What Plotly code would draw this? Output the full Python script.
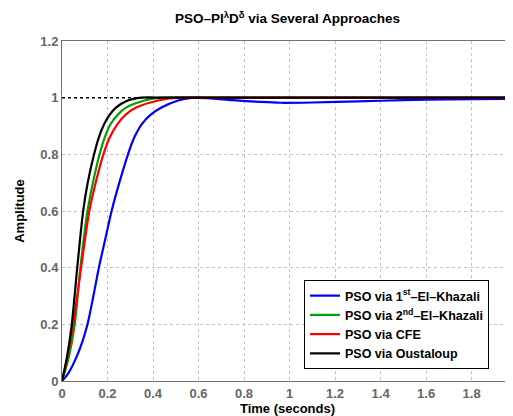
import plotly.graph_objects as go

# ---- data ----
t_blue = [0, 0.027, 0.064, 0.09, 0.112, 0.138, 0.162, 0.19, 0.218, 0.252, 0.29, 0.318, 0.35,
          0.39, 0.437, 0.51, 0.57, 0.64, 0.75, 0.87, 0.96, 1.1, 1.3, 1.5, 1.7, 1.98]
a_blue = [0, 0.026, 0.085, 0.14, 0.2, 0.3, 0.4, 0.5, 0.6, 0.7, 0.8, 0.86, 0.906,
          0.94, 0.965, 0.99, 0.999, 0.998, 0.991, 0.985, 0.982, 0.983, 0.987, 0.991, 0.994, 0.996]

t_green = [0, 0.03, 0.056, 0.081, 0.112, 0.136, 0.165, 0.188, 0.213, 0.245, 0.281, 0.363,
           0.437, 0.6, 1.0, 1.5, 1.98]
a_green = [0, 0.085, 0.2, 0.4, 0.6, 0.7, 0.8, 0.86, 0.906, 0.94, 0.965, 0.99,
           1.0, 1.0, 1.0, 1.0, 1.0]

t_red = [0, 0.024, 0.049, 0.084, 0.12, 0.148, 0.182, 0.21, 0.243, 0.28, 0.326, 0.422,
         0.51, 0.7, 1.0, 1.5, 1.98]
a_red = [0, 0.085, 0.2, 0.4, 0.6, 0.7, 0.8, 0.86, 0.906, 0.94, 0.965, 0.99,
         1.0, 1.0, 1.0, 1.0, 1.0]

t_black = [0, 0.022, 0.043, 0.067, 0.093, 0.113, 0.141, 0.162, 0.185, 0.21, 0.237, 0.289,
           0.348, 0.45, 0.6, 1.0, 1.5, 1.98]
a_black = [0, 0.085, 0.2, 0.4, 0.6, 0.7, 0.8, 0.86, 0.906, 0.94, 0.965, 0.99,
           1.0, 1.0, 1.0, 1.0, 1.0, 1.0]

t_ref = [0, 2.0]
a_ref = [1, 1]

names = ["PSO via 1<sup>st</sup>–El–Khazali", "PSO via 2<sup>nd</sup>–El–Khazali",
         "PSO via CFE", "PSO via Oustaloup"]
colors = ["#0000ff", "#00a000", "#ff0000", "#000000"]

x_ticks = [0, 0.2, 0.4, 0.6, 0.8, 1.0, 1.2, 1.4, 1.6, 1.8, 2.0]
x_tick_text = ["0", "0.2", "0.4", "0.6", "0.8", "1", "1.2", "1.4", "1.6", "1.8", "2"]
y_ticks = [0, 0.2, 0.4, 0.6, 0.8, 1.0, 1.2]
y_tick_text = ["0", "0.2", "0.4", "0.6", "0.8", "1", "1.2"]

FONT = "Liberation Sans, Arial, sans-serif"

# the page body adds an 8px offset, so the figure is sized to fit inside the window
W, H = 505, 408
ML, MT, MB, MR = 54, 33, 35, 0
PW = W - ML - MR
PH = H - MT - MB

fig = go.Figure()
fig.add_trace(go.Scatter(x=t_ref, y=a_ref, mode="lines", showlegend=False,
                         line=dict(color="black", width=1.5, dash="dot"), hoverinfo="skip"))
series = [(t_blue, a_blue), (t_green, a_green), (t_red, a_red), (t_black, a_black)]
for (tx, ay), nm, c in zip(series, names, colors):
    fig.add_trace(go.Scatter(x=tx, y=ay, mode="lines", name=nm,
                             line=dict(color=c, width=2.2, shape="spline", smoothing=0.8)))

axis_common = dict(
    showgrid=True, gridcolor="#c4c4c4", griddash="dot", gridwidth=1,
    showline=True, linecolor="#707070", linewidth=1,
    zeroline=False, ticks="",
    tickfont=dict(family=FONT, size=13, color="#666666", weight="bold"),
)

fig.update_layout(
    width=W, height=H,
    margin=dict(l=ML, r=MR, t=MT, b=MB, autoexpand=False),
    paper_bgcolor="white", plot_bgcolor="white",
    font=dict(family=FONT, size=12, color="black"),
    title=dict(text="<b>PSO–PI<sup>λ</sup>D<sup>δ</sup> via Several Approaches</b>",
               x=(ML + PW / 2) / W, xanchor="center", y=1 - 10.5 / H, yanchor="middle",
               font=dict(family=FONT, size=13.5, color="black")),
    xaxis=dict(range=[0, 1.982], tickvals=x_ticks, ticktext=x_tick_text, mirror=True,
               automargin=False,
               title=dict(text="<b>Time (seconds)</b>", standoff=0,
                          font=dict(family=FONT, size=13, color="black")),
               **axis_common),
    yaxis=dict(range=[0, 1.2], tickvals=y_ticks, ticktext=y_tick_text, mirror=False,
               automargin=False,
               title=dict(text="<b>Amplitude</b>", standoff=12,
                          font=dict(family=FONT, size=13, color="black")),
               **axis_common),
    legend=dict(x=(304 - 62) / PW, y=(381 - 280) / PH, xanchor="left", yanchor="top",
                bgcolor="white", bordercolor="black", borderwidth=1,
                font=dict(family=FONT, size=12.5, color="black", weight="bold"),
                tracegroupgap=0),
)

fig.write_html("out.html")
